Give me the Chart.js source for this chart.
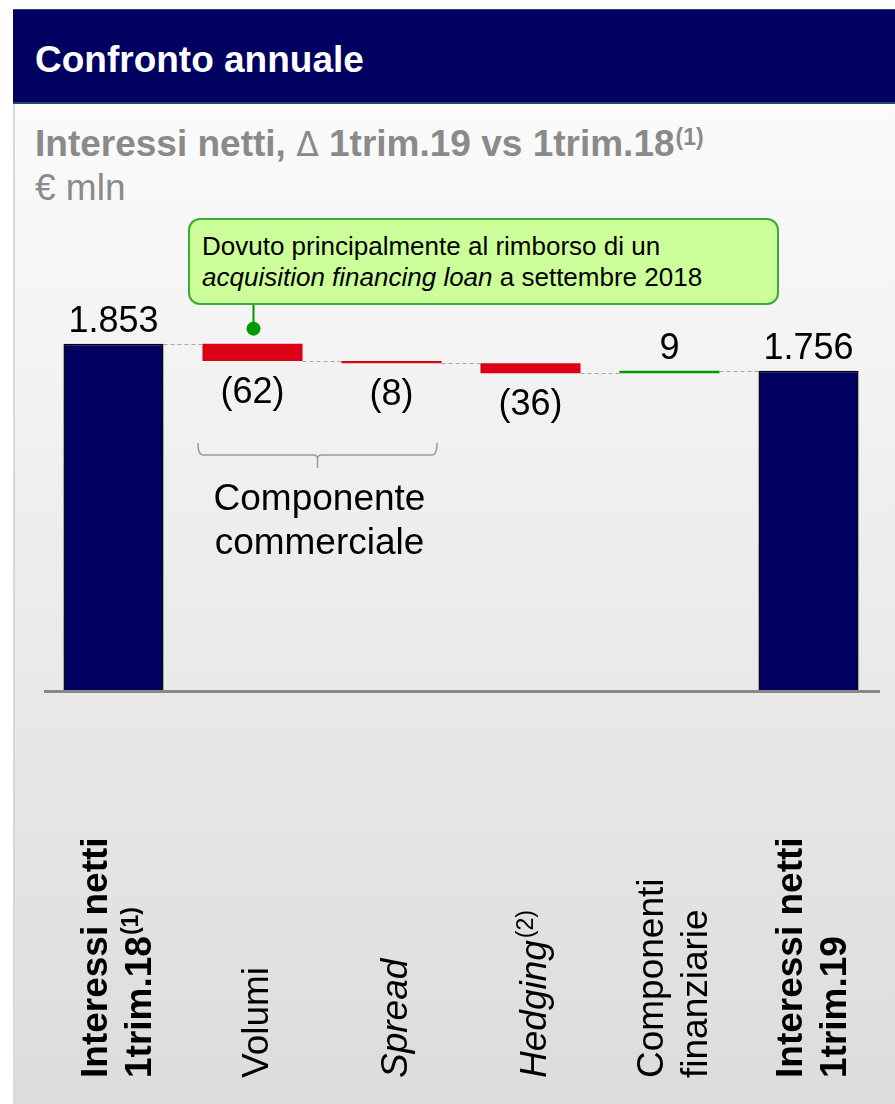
<!DOCTYPE html>
<html lang="it">
<head>
<meta charset="utf-8">
<title>Confronto annuale – Interessi netti</title>
<script src="https://cdn.jsdelivr.net/npm/chart.js@4.4.1/dist/chart.umd.min.js"></script>
<style>
  html, body { margin: 0; padding: 0; background: #fff; }
  body {
    width: 895px; height: 1104px; position: relative; overflow: hidden;
    font-family: "Liberation Sans", Arial, Helvetica, sans-serif;
  }
  #panel {
    position: absolute; left: 13px; top: 9px; width: 882px; height: 1095px;
    background: linear-gradient(to bottom, #fcfcfc 0px, #fafafa 120px, #dcdcdc 1095px);
    border-left: 2px solid #d8d8d8; box-sizing: border-box;
  }
  #header {
    position: absolute; left: 13px; top: 9px; width: 882px; height: 95px;
    background: #000060; border-top: 1px solid #1d4a68; border-bottom: 2px solid #1d4a68;
    box-sizing: border-box;
  }
  .txt { position: absolute; white-space: nowrap; font-size: 37px; line-height: 37px; }
  #title { left: 35px; top: 41px; color: #fff; font-weight: bold; }
  #subtitle { left: 35px; top: 125px; color: #8a8a8a; font-weight: bold; }
  #subtitle .delta { font-weight: normal; font-family: "DejaVu Sans", sans-serif; font-size: 33px; }
  #subtitle sup { font-size: 23px; line-height: 23px; position: relative; top: 1px; vertical-align: top; margin-left: 1px; }
  #unit { left: 35px; top: 169px; color: #8a8a8a; }
  #callout {
    position: absolute; left: 188px; top: 218px; width: 591px; height: 87px;
    box-sizing: border-box; border: 2px solid #3aaa35; border-radius: 12px;
    background: #ccff99; padding: 11px 0 0 12px;
    font-size: 26px; line-height: 31px; color: #000; white-space: nowrap; z-index: 2;
  }
  #chart { position: absolute; left: 0; top: 0; z-index: 1; }
</style>
</head>
<body>
<div id="panel"></div>
<div id="header"></div>
<div id="title" class="txt">Confronto annuale</div>
<div id="subtitle" class="txt">Interessi netti, <span class="delta">Δ</span> 1trim.19 vs 1trim.18<sup>(1)</sup></div>
<div id="unit" class="txt">€ mln</div>
<canvas id="chart" width="895" height="1104"></canvas>
<div id="callout">Dovuto principalmente al rimborso di un<br><i>acquisition financing loan</i> a settembre 2018</div>

<script>
// Categories of the bridge (each entry lists its text lines)
const categories = [
  ['Interessi netti', '1trim.18'],
  ['Volumi'],
  ['Spread'],
  ['Hedging'],
  ['Componenti', 'finanziarie'],
  ['Interessi netti', '1trim.19']
];
const categoryNotes = ['(1)', '', '', '(2)', '', ''];
const categoryStyles = ['bold', 'normal', 'italic', 'italic', 'normal', 'bold'];

// Values, € mln
const openingValue = 1853;
const deltaValues = [-62, -8, -36, 9];
const closingValue = 1756;

// Bracket grouping of the commercial component
const groupLabel = ['Componente', 'commerciale'];
const groupFrom = 1;
const groupTo = 2;

const FONT = '"Liberation Sans", Arial, Helvetica, sans-serif';
const NAVY = '#000060';
const RED = '#dc0016';
const GREEN = '#009a00';

// Floating bars for the waterfall
const barData = [openingValue];
const barColors = [NAVY];
let running = openingValue;
deltaValues.forEach(d => {
  barData.push([running, running + d]);
  barColors.push(d < 0 ? RED : GREEN);
  running += d;
});
barData.push(closingValue);
barColors.push(NAVY);
const isTotal = barData.map(v => !Array.isArray(v));
const levels = [openingValue];
{ let r = openingValue; deltaValues.forEach(d => { r += d; levels.push(r); }); levels.push(closingValue); }

function fmt(v) {
  const a = Math.abs(v);
  let s = a >= 1000 ? Math.floor(a / 1000) + '.' + String(a % 1000).padStart(3, '0') : String(a);
  return v < 0 ? '(' + s + ')' : s;
}
const labelValues = [openingValue, ...deltaValues, closingValue];

const waterfallDecor = {
  id: 'waterfallDecor',
  afterDatasetsDraw(chart) {
    const ctx = chart.ctx;
    const area = chart.chartArea;
    const yScale = chart.scales.y;
    const bars = chart.getDatasetMeta(0).data;
    const rect = i => {
      const b = bars[i];
      return { left: b.x - b.width / 2, right: b.x + b.width / 2,
               top: Math.min(b.y, b.base), bottom: Math.max(b.y, b.base), x: b.x };
    };

    // dashed connectors between bars
    ctx.save();
    ctx.strokeStyle = '#a8a8a8';
    ctx.lineWidth = 1;
    ctx.setLineDash([4, 3]);
    for (let i = 0; i < bars.length - 1; i++) {
      const y = Math.round(yScale.getPixelForValue(levels[i])) + 0.5;
      ctx.beginPath();
      ctx.moveTo(rect(i).right, y);
      ctx.lineTo(rect(i + 1).left, y);
      ctx.stroke();
    }
    ctx.restore();

    // base axis
    ctx.save();
    ctx.fillStyle = '#888888';
    ctx.fillRect(area.left, area.bottom, area.right - area.left + 2, 3);
    ctx.restore();

    // value labels
    ctx.save();
    ctx.fillStyle = '#000';
    ctx.textAlign = 'center';
    ctx.textBaseline = 'alphabetic';
    ctx.font = '36px ' + FONT;
    labelValues.forEach((v, i) => {
      const r = rect(i);
      if (!isTotal[i] && v < 0) ctx.fillText(fmt(v), r.x, r.bottom + 42);
      else ctx.fillText(fmt(v), r.x, r.top - 12);
    });
    ctx.restore();

    // bracket under the commercial component
    const gl = rect(groupFrom).left - 4.5;
    const gr = rect(groupTo).right - 4.5;
    const gc = (gl + gr) / 2;
    const by = 455;
    ctx.save();
    ctx.strokeStyle = '#9a9a9a';
    ctx.lineWidth = 1.5;
    ctx.beginPath();
    ctx.moveTo(gl, by - 12);
    ctx.quadraticCurveTo(gl, by, gl + 5, by);
    ctx.lineTo(gc - 4, by);
    ctx.quadraticCurveTo(gc, by, gc, by + 4);
    ctx.lineTo(gc, by + 13);
    ctx.moveTo(gc, by + 4);
    ctx.quadraticCurveTo(gc, by, gc + 4, by);
    ctx.lineTo(gr - 5, by);
    ctx.quadraticCurveTo(gr, by, gr, by - 12);
    ctx.stroke();
    ctx.fillStyle = '#000';
    ctx.textAlign = 'center';
    ctx.font = '37px ' + FONT;
    groupLabel.forEach((t, j) => ctx.fillText(t, gc + 2, 510 + j * 44));
    ctx.restore();

    // leader from the note box to the Volumi bar
    const box = document.getElementById('callout');
    const boxBottom = box.offsetTop + box.offsetHeight;
    const vr = rect(1);
    const dotY = vr.top - 15;
    ctx.save();
    ctx.strokeStyle = GREEN;
    ctx.fillStyle = GREEN;
    ctx.lineWidth = 2;
    ctx.beginPath();
    ctx.moveTo(vr.x + 1, boxBottom);
    ctx.lineTo(vr.x + 1, dotY);
    ctx.stroke();
    ctx.beginPath();
    ctx.arc(vr.x + 1, dotY, 7, 0, Math.PI * 2);
    ctx.fill();
    ctx.restore();

    // rotated category labels, reading bottom to top
    const size = 37, lh = 44, startY = 1078;
    categories.forEach((lines, i) => {
      const cx = chart.scales.x.getPixelForValue(i);
      const style = categoryStyles[i];
      const weight = style === 'bold' ? 'bold ' : '';
      const slant = style === 'italic' ? 'italic ' : '';
      lines.forEach((line, j) => {
        const base = cx + 15 + (j - (lines.length - 1) / 2) * lh;
        ctx.save();
        ctx.translate(base, startY);
        ctx.rotate(-Math.PI / 2);
        ctx.fillStyle = '#000';
        ctx.textAlign = 'left';
        ctx.textBaseline = 'alphabetic';
        ctx.font = slant + weight + size + 'px ' + FONT;
        ctx.fillText(line, 0, 0);
        const note = categoryNotes[i];
        if (note && j === lines.length - 1) {
          const w = ctx.measureText(line).width;
          ctx.font = weight + '23px ' + FONT;
          ctx.fillText(note, w + (style === 'italic' ? 2 : 1), -13);
        }
        ctx.restore();
      });
    });
  }
};

new Chart(document.getElementById('chart'), {
  type: 'bar',
  data: {
    labels: categories.map(l => l.join(' ')),
    datasets: [{
      data: barData,
      backgroundColor: barColors,
      borderColor: isTotal.map(t => t ? '#000000' : 'rgba(0,0,0,0)'),
      borderWidth: isTotal.map(t => t ? 1.5 : 0),
      borderSkipped: 'bottom',
      barPercentage: 0.72,
      categoryPercentage: 1.0
    }]
  },
  options: {
    responsive: false,
    devicePixelRatio: 1,
    animation: false,
    events: [],
    layout: { padding: { left: 44, right: 17, top: 213, bottom: 414 } },
    plugins: { legend: { display: false }, tooltip: { enabled: false } },
    scales: {
      x: { display: false },
      y: { display: false, min: 615, max: 2320 }
    }
  },
  plugins: [waterfallDecor]
});
</script>
</body>
</html>
